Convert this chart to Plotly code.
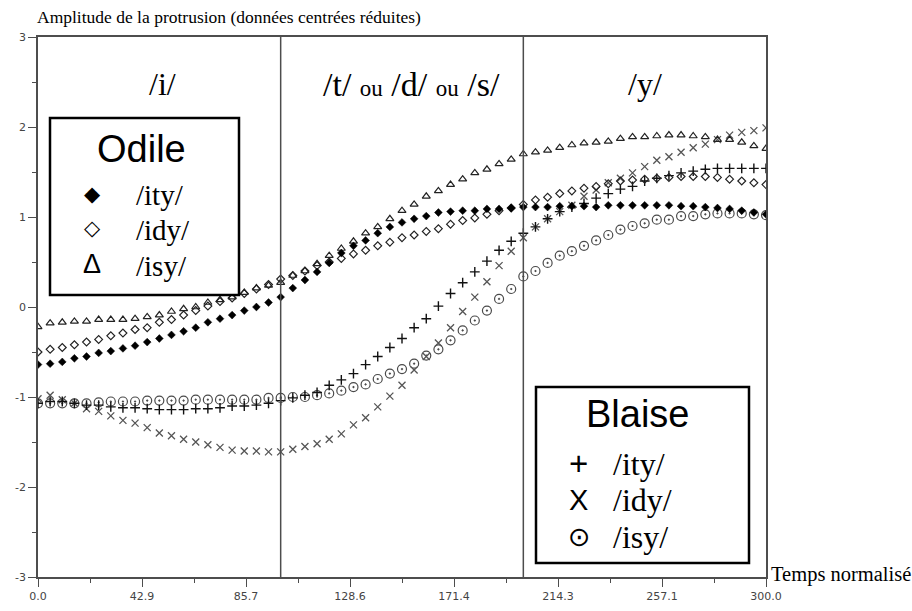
import plotly.graph_objects as go

# ---------------- data ----------------
temps = list(range(0, 301, 5))  # normalised time samples

odile_ity = [-0.64, -0.63, -0.61, -0.57, -0.55, -0.51, -0.49, -0.46, -0.43, -0.39,
             -0.35, -0.31, -0.27, -0.23, -0.17, -0.13, -0.09, -0.04, 0.00, 0.05,
             0.11, 0.21, 0.30, 0.39, 0.49, 0.60, 0.68, 0.74, 0.82, 0.89,
             0.94, 0.98, 1.01, 1.05, 1.06, 1.07, 1.07, 1.09, 1.09, 1.10,
             1.11, 1.11, 1.11, 1.12, 1.12, 1.12, 1.11, 1.13, 1.13, 1.13,
             1.13, 1.13, 1.13, 1.12, 1.12, 1.11, 1.10, 1.09, 1.07, 1.05, 1.03]

odile_idy = [-0.50, -0.47, -0.45, -0.42, -0.39, -0.36, -0.32, -0.29, -0.25, -0.23,
             -0.17, -0.14, -0.09, -0.04, 0.01, 0.06, 0.10, 0.15, 0.20, 0.25,
             0.31, 0.35, 0.40, 0.46, 0.50, 0.54, 0.59, 0.63, 0.68, 0.72,
             0.77, 0.80, 0.84, 0.87, 0.92, 0.96, 0.99, 1.03, 1.07, 1.10,
             1.14, 1.19, 1.22, 1.26, 1.29, 1.32, 1.34, 1.37, 1.40, 1.41,
             1.42, 1.43, 1.44, 1.45, 1.45, 1.45, 1.44, 1.42, 1.40, 1.38, 1.36]

odile_isy = [-0.22, -0.18, -0.17, -0.16, -0.16, -0.14, -0.14, -0.14, -0.13, -0.11,
             -0.09, -0.05, -0.02, 0.00, 0.05, 0.08, 0.11, 0.16, 0.21, 0.24,
             0.27, 0.35, 0.40, 0.48, 0.57, 0.65, 0.73, 0.82, 0.89, 0.98,
             1.07, 1.14, 1.23, 1.29, 1.36, 1.42, 1.49, 1.53, 1.59, 1.64,
             1.70, 1.72, 1.74, 1.77, 1.80, 1.82, 1.83, 1.84, 1.87, 1.89,
             1.89, 1.90, 1.91, 1.91, 1.90, 1.89, 1.86, 1.86, 1.83, 1.79, 1.76]

blaise_ity = [-1.07, -1.05, -1.05, -1.07, -1.09, -1.09, -1.11, -1.12, -1.12, -1.13,
              -1.14, -1.14, -1.14, -1.13, -1.13, -1.12, -1.10, -1.10, -1.09, -1.07,
              -1.04, -1.01, -0.98, -0.95, -0.87, -0.81, -0.74, -0.64, -0.55, -0.45,
              -0.35, -0.23, -0.13, 0.01, 0.15, 0.27, 0.39, 0.51, 0.63, 0.73,
              0.82, 0.89, 0.98, 1.06, 1.11, 1.15, 1.21, 1.26, 1.31, 1.34,
              1.40, 1.43, 1.46, 1.49, 1.51, 1.53, 1.54, 1.54, 1.54, 1.54, 1.54]

blaise_idy = [-1.02, -0.98, -1.03, -1.07, -1.13, -1.16, -1.21, -1.26, -1.29, -1.34,
              -1.40, -1.43, -1.47, -1.50, -1.53, -1.56, -1.59, -1.60, -1.60, -1.61,
              -1.61, -1.58, -1.55, -1.52, -1.47, -1.41, -1.31, -1.23, -1.11, -0.99,
              -0.87, -0.70, -0.55, -0.40, -0.23, -0.05, 0.11, 0.28, 0.46, 0.62,
              0.77, 0.89, 0.98, 1.06, 1.13, 1.23, 1.30, 1.38, 1.43, 1.49,
              1.56, 1.63, 1.67, 1.72, 1.77, 1.81, 1.86, 1.91, 1.94, 1.96, 1.99]

blaise_isy = [-1.07, -1.07, -1.07, -1.07, -1.07, -1.06, -1.05, -1.05, -1.05, -1.04,
              -1.04, -1.04, -1.04, -1.03, -1.03, -1.03, -1.03, -1.03, -1.03, -1.01,
              -1.01, -1.00, -1.00, -0.98, -0.96, -0.93, -0.89, -0.86, -0.80, -0.74,
              -0.69, -0.63, -0.54, -0.47, -0.37, -0.26, -0.15, -0.04, 0.09, 0.20,
              0.34, 0.40, 0.49, 0.57, 0.62, 0.68, 0.74, 0.80, 0.86, 0.90,
              0.93, 0.97, 0.97, 1.01, 1.01, 1.03, 1.04, 1.04, 1.04, 1.03, 1.02]

phase_bounds = [100, 200]
y_tickvals = [3, 2, 1, 0, -1, -2, -3]
y_ticktext = ["3", "2", "1", "0", "-1", "-2", "-3"]

# ---------------- figure ----------------
W, H = 912, 611
ML, MR, MT, MB = 38, 146, 37, 34
PW, PH = W - ML - MR, H - MT - MB


def px(xp):
    return (xp - ML) / PW


def py(yp):
    return (H - MB - yp) / PH


fig = go.Figure()

series = [
    (blaise_isy, "circle-open-dot", 9, "#4a4a4a", 1.2),
    (blaise_idy, "x-thin-open", 7, "#555555", 1.3),
    (blaise_ity, "cross-thin-open", 7, "#111111", 1.4),
    (odile_isy, "triangle-up-open", 7, "#222222", 1.2),
    (odile_idy, "diamond-open", 6, "#222222", 1.2),
    (odile_ity, "diamond", 6, "#000000", 0.5),
]
for vals, sym, size, col, lw in series:
    fig.add_trace(go.Scatter(
        x=temps, y=vals, mode="markers",
        marker=dict(symbol=sym, size=size, color=col, line=dict(color=col, width=lw)),
        showlegend=False, hoverinfo="skip"))

for b in phase_bounds:
    fig.add_shape(type="line", xref="x", yref="paper", x0=b, x1=b, y0=0, y1=1,
                  line=dict(color="#4d4d4d", width=1.5), layer="above")

# legend boxes
fig.add_shape(type="rect", xref="paper", yref="paper",
              x0=px(50), x1=px(239), y0=py(295), y1=py(118),
              line=dict(color="black", width=2.5), fillcolor="white", layer="above")
fig.add_shape(type="rect", xref="paper", yref="paper",
              x0=px(536), x1=px(749), y0=py(563), y1=py(387),
              line=dict(color="black", width=2.5), fillcolor="white", layer="above")

serif = "Liberation Serif, Times New Roman, serif"
sans = "Liberation Sans, Arial, sans-serif"
sym_font = "DejaVu Sans, sans-serif"


def ann(x, y, text, size, family, xanchor="center", color="black"):
    fig.add_annotation(xref="paper", yref="paper", x=px(x), y=py(y), text=text,
                       showarrow=False, xanchor=xanchor, yanchor="middle",
                       font=dict(size=size, family=family, color=color))


ann(35, 17, "Amplitude de la protrusion (données centrées réduites)", 17.5, serif, "left")
ann(769, 574, "Temps normalisé", 20.5, serif, "left")

ann(162, 84, "/i/", 32, serif)
ann(412, 84, "/t/ <span style='font-size:23px'>ou</span> /d/ "
             "<span style='font-size:23px'>ou</span> /s/", 34, serif)
ann(645, 84, "/y/", 32, serif)

ann(141, 149, "Odile", 38, sans)
ann(92, 194, "◆", 21, sym_font)
ann(92, 228, "◇", 21, sym_font)
ann(92, 264, "Δ", 27, sans)
ann(134, 195, "/ity/", 29, serif, "left")
ann(134, 230, "/idy/", 29, serif, "left")
ann(134, 266, "/isy/", 29, serif, "left")

ann(638, 414, "Blaise", 38, sans)
ann(578, 463, "+", 33, sans)
ann(578, 500, "X", 29, sans)
ann(579, 536, "⊙", 27, sym_font)
ann(611, 464, "/ity/", 32, serif, "left")
ann(611, 500, "/idy/", 32, serif, "left")
ann(611, 537, "/isy/", 32, serif, "left")

tick_font = dict(size=11, family="DejaVu Sans, sans-serif", color="#444444")
axis_common = dict(showline=True, linecolor="#4d4d4d", linewidth=1.5, mirror=True,
                   showgrid=False, zeroline=False, ticks="outside", ticklen=8,
                   tickwidth=1.3, tickcolor="#4d4d4d", tickfont=tick_font,
                   automargin=False)

fig.update_xaxes(range=[0, 300], tick0=0, dtick=300 / 7, tickformat=".1f",
                 minor=dict(ticks="outside", ticklen=4, tick0=0, dtick=150 / 7,
                            tickcolor="#4d4d4d", tickwidth=1.3),
                 **axis_common)
fig.update_yaxes(range=[-3, 3], tickmode="array", tickvals=y_tickvals, ticktext=y_ticktext,
                 minor=dict(ticks="outside", ticklen=4, tick0=0, dtick=0.5,
                            tickcolor="#4d4d4d", tickwidth=1.3),
                 **axis_common)

fig.update_layout(width=W, height=H, margin=dict(l=ML, r=MR, t=MT, b=MB),
                  paper_bgcolor="white", plot_bgcolor="white")

fig.write_html("out.html",
               config={"displayModeBar": False},
               post_script="document.body.style.margin='0';"
                           "document.body.style.overflow='hidden';")
